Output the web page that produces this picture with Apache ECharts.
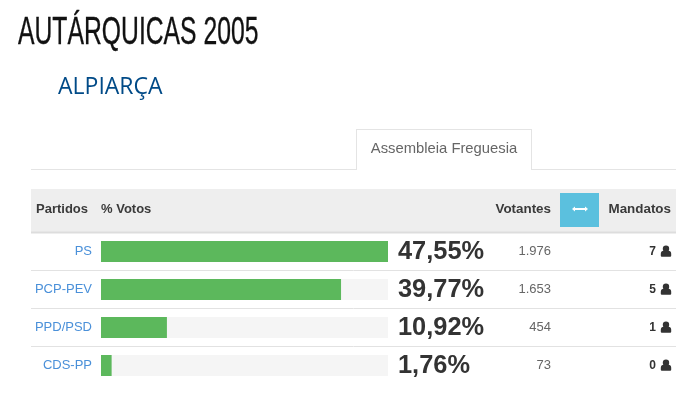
<!DOCTYPE html>
<html><head><meta charset="utf-8">
<style>html,body{margin:0;padding:0;background:#fff}#c{width:700px;height:418px}</style>
<script src="https://cdn.jsdelivr.net/npm/echarts@6/dist/echarts.min.js"></script>
</head><body><div id="c"></div>
<script>
const titleText = 'AUTÁRQUICAS 2005';
const subtitleText = 'ALPIARÇA';
const tabText = 'Assembleia Freguesia';
const parties = ['PS', 'PCP-PEV', 'PPD/PSD', 'CDS-PP'];
const percentages = [47.55, 39.77, 10.92, 1.76];
const votes = ['1.976', '1.653', '454', '73'];
const seats = [7, 5, 1, 0];

const gridTop = 232.5, rowH = 38, left = 101, right = 388;
const pct = v => v.toFixed(2).replace('.', ',') + '%';
const sans = '"Liberation Sans", Arial, sans-serif';

const hdr = (text, x, align, size = 13) => ({
  type: 'text', x, y: 209, silent: true,
  style: { text, fill: '#3a3a3a', font: `bold ${size}px ` + sans, textAlign: align, textVerticalAlign: 'middle' }
});
const rect = (x, y, w, h, fill) => ({ type: 'rect', silent: true, shape: { x, y, width: w, height: h }, style: { fill } });
const line = (x1, y1, x2, y2, stroke, lineWidth = 1) => ({ type: 'line', silent: true, shape: { x1, y1, x2, y2 }, style: { stroke, lineWidth } });

const graphics = [
  { type: 'text', x: 18, y: 53, scaleX: 0.634, silent: true,
    style: { text: titleText, fill: '#111', stroke: '#111', lineWidth: 0.35, font: '39px ' + sans, textAlign: 'left', textVerticalAlign: 'bottom' } },
  { type: 'text', x: 58, y: 87, silent: true,
    style: { text: subtitleText, fill: '#004a87', font: '23px "Open Sans", sans-serif', textAlign: 'left', textVerticalAlign: 'middle' } },
  line(31, 169.5, 356, 169.5, '#e4e4e4'),
  line(531, 169.5, 676, 169.5, '#e4e4e4'),
  line(356.5, 170, 356.5, 129.5, '#e4e4e4'),
  line(356, 129.5, 532, 129.5, '#e4e4e4'),
  line(531.5, 129.5, 531.5, 170, '#e4e4e4'),
  { type: 'text', x: 444, y: 149, silent: true,
    style: { text: tabText, fill: '#666', font: '14.8px ' + sans, textAlign: 'center', textVerticalAlign: 'middle' } },
  rect(31, 189, 645, 43, '#eeeeee'),
  line(31, 232.5, 676, 232.5, '#dddddd', 2),
  rect(560, 193, 39, 34, '#5bc0de'),
  line(574, 209, 586, 209, '#ffffff', 2),
  { type: 'polygon', silent: true, shape: { points: [[572, 209], [575, 206.5], [575, 211.5]] }, style: { fill: '#fff' } },
  { type: 'polygon', silent: true, shape: { points: [[588, 209], [585, 206.5], [585, 211.5]] }, style: { fill: '#fff' } },
  hdr('Partidos', 36, 'left'),
  hdr('% Votos', 101, 'left'),
  hdr('Votantes', 551, 'right', 13.4),
  hdr('Mandatos', 671, 'right', 13.4)
];
parties.forEach((p, i) => {
  if (i > 0) graphics.push(line(31, gridTop + rowH * i, 676, gridTop + rowH * i, '#e2e2e2'));
  const cy = gridTop + rowH * i + 19;
  graphics.push({ type: 'circle', silent: true, shape: { cx: 666, cy: cy - 2.8, r: 3.2 }, style: { fill: '#333' } });
  graphics.push({ type: 'rect', silent: true,
    shape: { x: 660.8, y: cy - 0.8, width: 10.4, height: 6, r: [3, 3, 1, 1] },
    style: { fill: '#333' } });
});

const hiddenAxis = { type: 'category', inverse: true, axisLine: { show: false }, axisTick: { show: false }, splitLine: { show: false } };

const option = {
  animation: false,
  backgroundColor: '#ffffff',
  grid: { left, top: gridTop, width: right - left, height: rowH * parties.length, containLabel: false },
  xAxis: { type: 'value', min: 0, max: Math.max(...percentages), show: false },
  yAxis: [
    { ...hiddenAxis, data: parties, position: 'left',
      axisLabel: { interval: 0, margin: 9, color: '#4a90d9', fontSize: 13, fontFamily: sans } },
    { ...hiddenAxis, data: percentages.map(pct), position: 'right', offset: 0,
      axisLabel: { interval: 0, margin: 10, align: 'left', color: '#333', fontSize: 25.4, fontWeight: 'bold', fontFamily: sans, padding: [2, 0, 0, 0] } },
    { ...hiddenAxis, data: votes, position: 'right', offset: 163,
      axisLabel: { interval: 0, margin: 0, align: 'right', color: '#666', fontSize: 13, fontFamily: sans } },
    { ...hiddenAxis, data: seats.map(String), position: 'right', offset: 268,
      axisLabel: { interval: 0, margin: 0, align: 'right', color: '#333', fontSize: 12, fontWeight: 'bold', fontFamily: sans, padding: [1, 0, 0, 0] } }
  ],
  series: [{
    type: 'bar', yAxisIndex: 0, data: percentages, barWidth: 21, silent: true,
    itemStyle: { color: '#5cb85c' },
    showBackground: true, backgroundStyle: { color: '#f5f5f5' }
  }],
  graphic: graphics
};
const chart = echarts.init(document.getElementById('c'), null, { renderer: 'canvas' });
chart.setOption(option);
</script></body></html>
